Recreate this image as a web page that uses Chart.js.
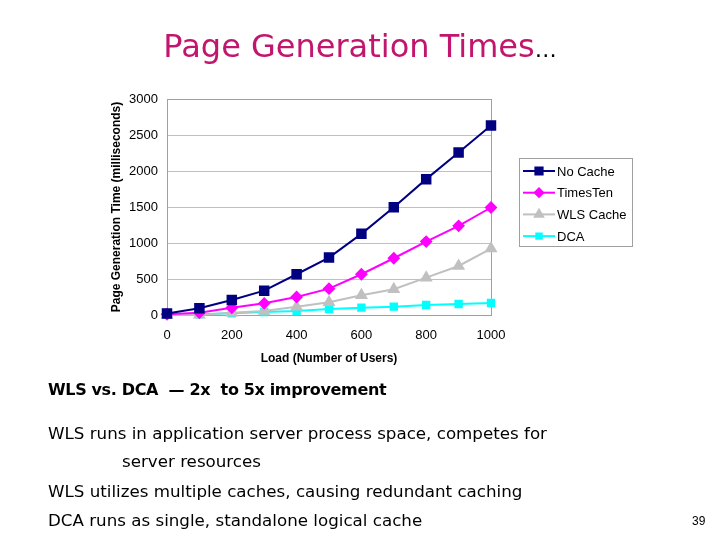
<!DOCTYPE html>
<html>
<head>
<meta charset="utf-8">
<script src="https://cdn.jsdelivr.net/npm/chart.js@4"></script>
<style>
  html, body { margin: 0; padding: 0; background: #fff; }
  #wrap { position: relative; width: 720px; height: 540px; overflow: hidden; }
  #chart { position: absolute; left: 0; top: 0; }
  .t { position: absolute; white-space: pre; color: #000; }
  #title { left: 0; width: 720px; top: 27px; text-align: center; font: 32px "DejaVu Sans", sans-serif; color: #c2166e; }
  #title span { color: #000; font-size: 22px; }
  #sub { left: 48px; top: 380px; font: bold 16px "DejaVu Sans", sans-serif; letter-spacing: -0.35px; }
  .body { font: 16.7px "DejaVu Sans", sans-serif; line-height: 20px; }
  #pg { left: 692px; top: 514px; font: 12px "Liberation Sans", sans-serif; }
</style>
</head>
<body>
<div id="wrap">
  <canvas id="chart" width="720" height="540"></canvas>
  <div class="t" id="title">Page Generation Times<span>…</span></div>
  <div class="t" id="sub">WLS vs. DCA  — 2x  to 5x improvement</div>
  <div class="t body" style="left:48px; top:423px;">WLS runs in application server process space, competes for</div>
  <div class="t body" style="left:122px; top:451px;">server resources</div>
  <div class="t body" style="left:48px; top:481px;">WLS utilizes multiple caches, causing redundant caching</div>
  <div class="t body" style="left:48px; top:510px;">DCA runs as single, standalone logical cache</div>
  <div class="t" id="pg">39</div>
</div>
<script>
// valeurs
const users = [0, 100, 200, 300, 400, 500, 600, 700, 800, 900, 1000];
const noCache = [20, 93, 209, 338, 566, 797, 1127, 1497, 1887, 2258, 2633];
const timesTen = [10, 30, 100, 162, 250, 366, 566, 788, 1020, 1238, 1493];
const wlsCache = [0, 5, 30, 55, 116, 176, 273, 357, 519, 681, 922];
const dca = [10, 10, 23, 42, 56, 83, 102, 116, 139, 153, 167];
const seriesNames = ['No Cache', 'TimesTen', 'WLS Cache', 'DCA'];

const toXY = arr => arr.map((v, i) => ({ x: users[i], y: v }));

const styles = [
  { color: '#000080', point: 'rect', radius: 6 },
  { color: '#ff00ff', point: 'rectRot', radius: 5 },
  { color: '#c0c0c0', point: 'triangle', radius: 5.5 },
  { color: '#00ffff', point: 'rect', radius: 4.5 },
];

const allData = [noCache, timesTen, wlsCache, dca];
const font = '"Liberation Sans", Arial, sans-serif';

// légende encadrée, trait + marqueur
const boxLegend = {
  id: 'boxLegend',
  afterDraw(chart) {
    const ctx = chart.ctx;
    const x0 = 519, y0 = 158, w = 113, h = 88;
    ctx.save();
    ctx.strokeStyle = '#a0a0a0';
    ctx.lineWidth = 1;
    ctx.strokeRect(x0 + 0.5, y0 + 0.5, w, h);
    ctx.font = '13px ' + font;
    ctx.textBaseline = 'middle';
    chart.data.datasets.forEach((ds, i) => {
      const y = 171 + i * 21.7;
      ctx.strokeStyle = ds.borderColor;
      ctx.lineWidth = 2;
      ctx.beginPath();
      ctx.moveTo(523, y);
      ctx.lineTo(555, y);
      ctx.stroke();
      ctx.fillStyle = ds.borderColor;
      Chart.helpers.drawPoint(ctx, {
        pointStyle: ds.pointStyle,
        radius: ds.pointRadius * 0.85,
        borderWidth: 1,
        rotation: 0
      }, 539, y);
      ctx.fill();
      ctx.fillStyle = '#000';
      ctx.fillText(ds.label, 557, y + 1);
    });
    ctx.restore();
  }
};

// cadre gris autour de la zone de tracé (sous les séries)
const plotFrame = {
  id: 'plotFrame',
  beforeDatasetsDraw(chart) {
    const a = chart.chartArea;
    const ctx = chart.ctx;
    ctx.save();
    ctx.strokeStyle = '#a0a0a0';
    ctx.lineWidth = 1;
    ctx.strokeRect(Math.round(a.left) + 0.5, Math.round(a.top) + 0.5, a.right - a.left, a.bottom - a.top);
    ctx.restore();
  }
};

new Chart(document.getElementById('chart'), {
  type: 'line',
  data: {
    datasets: seriesNames.map((name, i) => ({
      label: name,
      data: toXY(allData[i]),
      borderColor: styles[i].color,
      backgroundColor: styles[i].color,
      pointBackgroundColor: styles[i].color,
      pointBorderColor: styles[i].color,
      pointStyle: styles[i].point,
      pointRadius: styles[i].radius,
      borderWidth: 2,
      tension: 0,
      clip: false
    }))
  },
  options: {
    responsive: false,
    animation: false,
    layout: { padding: { left: 100, top: 99, right: 229, bottom: 165 } },
    plugins: {
      legend: { display: false },
      tooltip: { enabled: false }
    },
    scales: {
      x: {
        type: 'linear',
        min: 0,
        max: 1000,
        afterFit: s => { s.height = 60; },
        grid: { display: false, drawTicks: false },
        border: { display: false },
        ticks: { stepSize: 200, padding: 13, color: '#000', callback: v => String(v), font: { family: font, size: 13 } },
        title: { display: true, text: 'Load (Number of Users)', color: '#000', padding: { top: 0, bottom: 9 }, font: { family: font, size: 12, weight: 'bold' } }
      },
      y: {
        min: 0,
        max: 3000,
        afterFit: s => { s.width = 67; },
        grid: { color: '#c0c0c0', drawTicks: false },
        border: { display: false },
        ticks: { stepSize: 500, padding: 9, color: '#000', callback: v => String(v), font: { family: font, size: 13 } },
        title: { display: true, text: 'Page Generation Time (milliseconds)', color: '#000', padding: { top: 9, bottom: 0 }, font: { family: font, size: 12, weight: 'bold' } }
      }
    }
  },
  plugins: [plotFrame, boxLegend]
});
</script>
</body>
</html>
